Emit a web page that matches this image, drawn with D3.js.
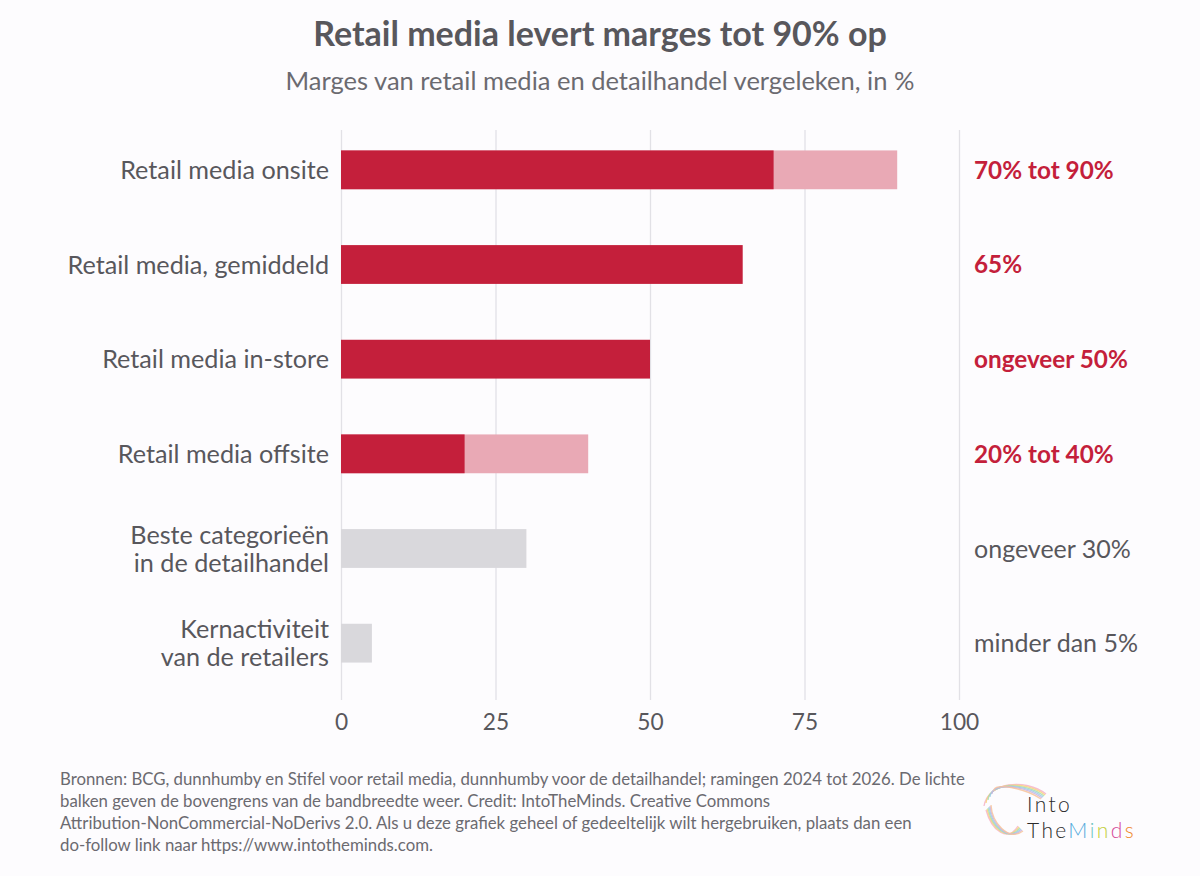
<!DOCTYPE html>
<html>
<head>
<meta charset="utf-8">
<script src="https://cdn.jsdelivr.net/npm/d3@7"></script>
<style>
  body { margin: 0; background: #fdfcfe; }
  svg { display: block; font-family: Lato, "Open Sans", sans-serif; }
</style>
</head>
<body>
<div id="chart"></div>
<script>
// data
const categories = [
  ["Retail media onsite"],
  ["Retail media, gemiddeld"],
  ["Retail media in-store"],
  ["Retail media offsite"],
  ["Beste categorieën", "in de detailhandel"],
  ["Kernactiviteit", "van de retailers"]
];
const lowValues = [70, 65, 50, 20, 30, 5];
const highValues = [90, null, null, 40, null, null];
const isRetailMedia = [true, true, true, true, false, false];
const valueLabels = ["70% tot 90%", "65%", "ongeveer 50%", "20% tot 40%", "ongeveer 30%", "minder dan 5%"];
const xTicks = [0, 25, 50, 75, 100];

const footerLines = [
  "Bronnen: BCG, dunnhumby en Stifel voor retail media, dunnhumby voor de detailhandel; ramingen 2024 tot 2026. De lichte",
  "balken geven de bovengrens van de bandbreedte weer. Credit: IntoTheMinds. Creative Commons",
  "Attribution-NonCommercial-NoDerivs 2.0. Als u deze grafiek geheel of gedeeltelijk wilt hergebruiken, plaats dan een",
  "do-follow link naar https://www.intotheminds.com."
];

const W = 1200, H = 876;
const red = "#c41f3b", pink = "#e9a9b5", greyBar = "#d9d8dc", textGrey = "#58575c";

const svg = d3.select("#chart").append("svg")
  .attr("width", W).attr("height", H);

svg.append("rect").attr("width", W).attr("height", H).attr("fill", "#fdfcfe");

// title
svg.append("text").attr("x", 600).attr("y", 46).attr("text-anchor", "middle")
  .style("font-size", "34px").style("font-weight", 700).attr("fill", textGrey)
  .text("Retail media levert marges tot 90% op");
svg.append("text").attr("x", 600).attr("y", 90).attr("text-anchor", "middle")
  .style("font-size", "25.5px").attr("fill", "#6b6a70")
  .text("Marges van retail media en detailhandel vergeleken, in %");

// scales
const x = d3.scaleLinear().domain([0, 100]).range([341, 959]);
const idx = d3.range(categories.length);
const y = d3.scaleBand().domain(idx).range([122.5, 690.5])
  .paddingInner(0.59).paddingOuter(0.295);

// grid + axis
const axis = svg.append("g").attr("transform", "translate(0,700)")
  .call(d3.axisBottom(x).tickValues(xTicks).tickSize(-570).tickPadding(10));
axis.select(".domain").remove();
axis.selectAll(".tick line").attr("stroke", "#e2e1e6").attr("stroke-width", 1.3);
axis.selectAll(".tick text").attr("fill", textGrey)
  .style("font-size", "22.7px").style("font-family", "Lato, sans-serif")
  .attr("dy", "0.9em");

// bars (upper bound first so low value sits on top)
svg.append("g").selectAll("rect")
  .data(idx.filter(i => highValues[i] != null))
  .join("rect")
  .attr("x", x(0))
  .attr("y", i => y(i))
  .attr("width", i => x(highValues[i]) - x(0))
  .attr("height", y.bandwidth())
  .attr("fill", pink);

svg.append("g").selectAll("rect")
  .data(idx)
  .join("rect")
  .attr("x", x(0))
  .attr("y", i => y(i))
  .attr("width", i => x(lowValues[i]) - x(0))
  .attr("height", y.bandwidth())
  .attr("fill", i => isRetailMedia[i] ? red : greyBar);

// category labels
const catG = svg.append("g");
idx.forEach(i => {
  const lines = categories[i];
  const cy = y(i) + y.bandwidth() / 2;
  const t = catG.append("text").attr("text-anchor", "end")
    .attr("fill", textGrey).style("font-size", "25.2px");
  lines.forEach((l, k) => {
    t.append("tspan").attr("x", 329)
      .attr("y", cy + (k - (lines.length - 1) / 2) * 28)
      .attr("dy", "0.36em").text(l);
  });
});

// value labels on the right
svg.append("g").selectAll("text")
  .data(idx)
  .join("text")
  .attr("x", 974)
  .attr("y", i => y(i) + y.bandwidth() / 2)
  .attr("dy", "0.36em")
  .attr("fill", i => isRetailMedia[i] ? red : textGrey)
  .style("font-weight", i => isRetailMedia[i] ? 700 : 400)
  .style("font-size", i => isRetailMedia[i] ? "24.3px" : "25px")
  .text(i => valueLabels[i]);

// footer
const foot = svg.append("text").attr("fill", "#6b6a70").style("font-size", "16.8px");
footerLines.forEach((l, k) => {
  foot.append("tspan").attr("x", 60).attr("y", 785 + k * 22).text(l);
});

// logo (approximation)
const logo = svg.append("g");
const brainCols = ["#f4b3c8", "#f8d37a", "#a8dcb0", "#9ccbe9", "#c9b3e0", "#f7c39a"];
brainCols.forEach((c, k) => {
  logo.append("path")
    .attr("d", `M${984 + k * 2},${806 - k * 3} C${988 + k},${782} ${1025},${778 + k * 2} ${1046 - k},${794 + k}`
      + ` M${986 + k},${810 - k} C${992},${832 - k * 2} ${1008},${842} ${1018 + k},${826 + k}`)
    .attr("fill", "none").attr("stroke", c).attr("stroke-width", 1.3).attr("opacity", 0.85);
});
const logoText = logo.append("text")
  .style("font-family", "Lato, sans-serif").style("font-weight", 300)
  .style("font-size", "21px").style("letter-spacing", "2.4px").attr("fill", "#2b2b2b");
logoText.append("tspan").attr("x", 1027).attr("y", 812).text("Into");
logoText.append("tspan").attr("x", 1027).attr("y", 838).text("The");
const mindCols = ["#4fa9dc", "#6cc3c0", "#c3cf3a", "#d64b9a", "#ef8a2e"];
"Minds".split("").forEach((ch, k) => logoText.append("tspan").attr("fill", mindCols[k]).text(ch));
</script>
</body>
</html>
